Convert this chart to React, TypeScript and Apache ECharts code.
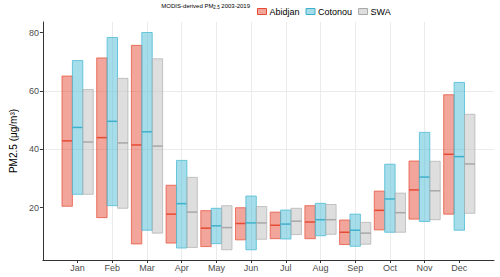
import React, { useEffect, useRef } from "react";
import * as echarts from "echarts";

const months = ["Jan", "Feb", "Mar", "Apr", "May", "Jun", "Jul", "Aug", "Sep", "Oct", "Nov", "Dec"];
const monthIdx = [1, 2, 3, 4, 5, 6, 7, 8, 9, 10, 11, 12];

const abidjanLow = [20.5, 16.6, 7.6, 7.9, 6.7, 9.0, 9.4, 9.4, 7.4, 12.4, 16.1, 17.8];
const abidjanMed = [42.9, 44.0, 41.5, 17.8, 13.0, 14.6, 14.0, 15.1, 11.6, 19.1, 26.1, 38.3];
const abidjanHigh = [65.1, 71.3, 75.6, 27.7, 19.0, 20.0, 18.5, 20.7, 15.8, 25.7, 36.0, 58.7];

const cotonouLow = [24.6, 20.7, 12.3, 6.2, 7.7, 5.6, 9.3, 10.4, 6.8, 11.6, 15.3, 12.3];
const cotonouMed = [47.5, 49.6, 46.0, 21.4, 13.8, 14.8, 14.4, 15.9, 12.3, 23.0, 30.5, 37.5];
const cotonouHigh = [70.4, 78.3, 80.0, 36.2, 19.8, 24.0, 19.2, 21.5, 17.8, 34.9, 45.8, 62.9];

const swaLow = [24.6, 19.8, 11.3, 6.4, 5.6, 9.2, 10.8, 10.9, 7.5, 11.6, 15.9, 18.1];
const swaMed = [42.5, 42.2, 41.1, 18.5, 13.2, 14.8, 15.4, 15.9, 11.3, 18.3, 25.8, 35.0];
const swaHigh = [60.5, 64.3, 71.0, 30.4, 20.7, 20.4, 19.8, 21.1, 15.0, 25.0, 35.9, 52.0];

const yTicks = [20, 40, 60, 80];

const seriesDefs = [
  { name: "Abidjan", low: abidjanLow, med: abidjanMed, high: abidjanHigh, offset: -0.3,
    fill: "rgba(230,75,53,0.5)", stroke: "rgba(230,75,53,0.7)", medColor: "#E64B35" },
  { name: "Cotonou", low: cotonouLow, med: cotonouMed, high: cotonouHigh, offset: 0,
    fill: "rgba(77,187,213,0.5)", stroke: "rgba(77,187,213,0.8)", medColor: "#3FB0CC" },
  { name: "SWA", low: swaLow, med: swaMed, high: swaHigh, offset: 0.3,
    fill: "rgba(190,190,190,0.5)", stroke: "rgba(175,175,175,0.7)", medColor: "#A8A8A8" },
];

const FONT = "'Liberation Sans', Arial, Helvetica, sans-serif";

export default function App() {
  const ref = useRef<HTMLDivElement>(null);
  useEffect(() => {
    if (!ref.current) return;
    const chart = echarts.init(ref.current, undefined, { renderer: "svg" });
    const halfW = 0.15;
    const series = seriesDefs.map((s) => ({
      name: s.name,
      type: "custom",
      itemStyle: { color: s.fill, borderColor: s.stroke, borderWidth: 1 },
      encode: { x: 0, y: [1, 2, 3] },
      data: monthIdx.map((m, i) => [m, s.low[i], s.med[i], s.high[i]]),
      renderItem: (params: any, api: any) => {
        const m = api.value(0);
        const lo = api.value(1);
        const med = api.value(2);
        const hi = api.value(3);
        const x0 = m + s.offset - halfW;
        const x1 = m + s.offset + halfW;
        const p0 = api.coord([x0, hi]);
        const p1 = api.coord([x1, lo]);
        const q = api.coord([x0, med]);
        const r = api.coord([x1, med]);
        return {
          type: "group",
          children: [
            {
              type: "rect",
              shape: { x: p0[0], y: p0[1], width: p1[0] - p0[0], height: p1[1] - p0[1] },
              style: { fill: s.fill, stroke: s.stroke, lineWidth: 1 },
            },
            {
              type: "line",
              shape: { x1: q[0], y1: q[1], x2: r[0], y2: r[1] },
              style: { stroke: s.medColor, lineWidth: 1.5 },
            },
          ],
        };
      },
    }));

    chart.setOption({
      animation: false,
      textStyle: { fontFamily: FONT },
      grid: { left: 35, right: 6, top: 22, bottom: 17, containLabel: false },
      legend: {
        left: 252,
        top: 2,
        icon: "rect",
        itemWidth: 9,
        itemHeight: 6,
        itemGap: 6,
        textStyle: { fontSize: 9, color: "#000", fontFamily: FONT, padding: [0, 0, 0, -2] },
        data: seriesDefs.map((s) => ({
          name: s.name,
          itemStyle: { color: s.fill, borderColor: s.medColor, borderWidth: 1 },
        })),
      },
      graphic: [
        {
          type: "text",
          right: 500 - 250,
          top: 3,
          style: {
            text: "MODIS-derived PM{sub|2.5} 2003-2019",
            fontSize: 6,
            fill: "#000",
            fontFamily: FONT,
            rich: { sub: { fontSize: 4.5, padding: [3, 0, 0, 0], fill: "#000", fontFamily: FONT } },
          },
        },
      ],
      xAxis: {
        type: "value",
        min: 0,
        max: 13,
        interval: 1,
        axisLine: { show: true, lineStyle: { color: "#333", width: 1 } },
        axisTick: { show: true, length: 3, lineStyle: { color: "#333" }, customValues: monthIdx },
        axisLabel: {
          customValues: monthIdx,
          formatter: (v: number) => months[v - 1] || "",
          fontSize: 9,
          color: "#4D4D4D",
          margin: 3,
          fontFamily: FONT,
        },
        splitLine: { show: true, showMinLine: false, showMaxLine: false, lineStyle: { color: "#EBEBEB", width: 1 } },
      },
      yAxis: {
        type: "value",
        min: 2.1,
        max: 83.6,
        name: "PM2.5 (μg/m³)",
        nameLocation: "middle",
        nameRotate: 90,
        nameGap: 23,
        nameTextStyle: { fontSize: 10, color: "#000", fontFamily: FONT },
        axisLine: { show: true, lineStyle: { color: "#333", width: 1 } },
        axisTick: { show: true, length: 3, lineStyle: { color: "#333" }, customValues: yTicks },
        axisLabel: {
          customValues: yTicks,
          fontSize: 9,
          color: "#4D4D4D",
          margin: 4,
          fontFamily: FONT,
        },
        splitLine: { show: true, showMinLine: false, showMaxLine: false, lineStyle: { color: "#EBEBEB", width: 1 } },
      },
      series,
    });
    return () => chart.dispose();
  }, []);
  return <div ref={ref} style={{ position: "absolute", left: 0, top: 0, width: 500, height: 277 }} />;
}
